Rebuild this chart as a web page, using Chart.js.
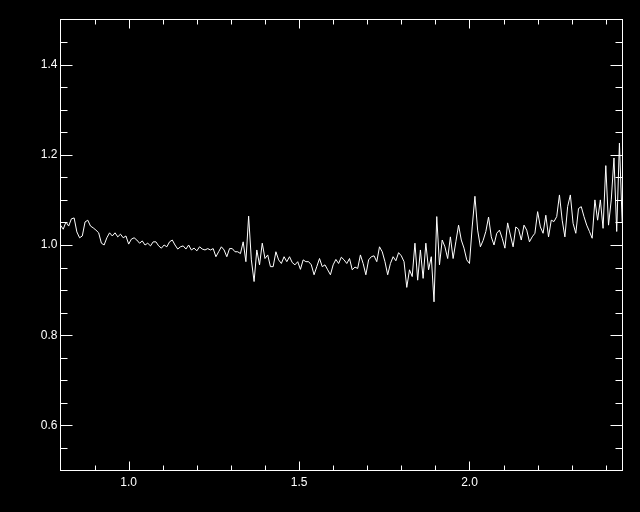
<!DOCTYPE html>
<html>
<head>
<meta charset="utf-8">
<script src="https://cdn.jsdelivr.net/npm/chart.js@4.4.0/dist/chart.umd.min.js"></script>
<style>
  html, body { margin: 0; padding: 0; background: #000; }
  #wrap { width: 640px; height: 512px; }
</style>
</head>
<body>
<div id="wrap"><canvas id="spectrum" width="640" height="512"></canvas></div>
<script>
// wavelength grid (micron): first sample and spacing
const WAVE_START = 0.8;
const WAVE_STEP = 0.008;

// normalised flux
const flux = [
  1.044, 1.035, 1.051, 1.042, 1.058, 1.060, 1.029, 1.016, 1.020, 1.051,
  1.055, 1.042, 1.038, 1.033, 1.027, 1.004, 1.000, 1.016, 1.027, 1.020,
  1.027, 1.018, 1.024, 1.016, 1.020, 1.002, 1.013, 1.016, 1.011, 1.004,
  1.009, 1.000, 1.004, 0.998, 1.007, 1.007, 0.998, 0.993, 1.000, 0.996,
  1.007, 1.011, 1.000, 0.991, 0.996, 0.998, 0.991, 1.000, 0.989, 0.993,
  0.987, 0.996, 0.991, 0.989, 0.992, 0.989, 0.992, 0.974, 0.985, 0.996,
  0.989, 0.974, 0.992, 0.992, 0.985, 0.985, 0.981, 1.007, 0.963, 1.064,
  0.967, 0.919, 0.989, 0.956, 1.004, 0.970, 0.978, 0.952, 0.952, 0.985,
  0.967, 0.959, 0.974, 0.963, 0.974, 0.961, 0.956, 0.963, 0.946, 0.967,
  0.963, 0.963, 0.956, 0.934, 0.952, 0.970, 0.952, 0.956, 0.945, 0.934,
  0.956, 0.968, 0.959, 0.973, 0.967, 0.959, 0.970, 0.945, 0.951, 0.948,
  0.978, 0.959, 0.934, 0.967, 0.974, 0.976, 0.963, 0.996, 0.985, 0.963,
  0.934, 0.959, 0.974, 0.965, 0.983, 0.976, 0.963, 0.906, 0.945, 0.930,
  1.004, 0.922, 0.989, 0.926, 1.004, 0.945, 0.974, 0.874, 1.063, 0.956,
  1.011, 0.996, 0.970, 1.018, 0.970, 1.007, 1.044, 1.011, 0.993, 0.967,
  0.959, 1.040, 1.108, 1.033, 0.996, 1.010, 1.030, 1.062, 1.018, 1.000,
  1.026, 1.033, 1.015, 0.993, 1.049, 1.022, 0.996, 1.040, 1.035, 1.011,
  1.044, 1.033, 1.007, 1.018, 1.026, 1.074, 1.040, 1.026, 1.066, 1.018,
  1.055, 1.052, 1.063, 1.111, 1.055, 1.018, 1.085, 1.111, 1.048, 1.026,
  1.081, 1.085, 1.063, 1.044, 1.030, 1.015, 1.100, 1.055, 1.100, 1.037,
  1.176, 1.044, 1.100, 1.193, 1.030, 1.226, 1.050
];

const X_MIN = 0.8, X_MAX = 2.449;
const Y_MIN = 0.5, Y_MAX = 1.5;
const xMajorTicks = [1.0, 1.5, 2.0];
const xMinorTicks = [0.9, 1.1, 1.2, 1.3, 1.4, 1.6, 1.7, 1.8, 1.9, 2.1, 2.2, 2.3, 2.4];
const yMajorTicks = [0.6, 0.8, 1.0, 1.2, 1.4];
const yMinorTicks = [0.55, 0.65, 0.7, 0.75, 0.85, 0.9, 0.95, 1.05, 1.1, 1.15, 1.25, 1.3, 1.35, 1.45];

const points = flux.map((f, i) => ({ x: WAVE_START + i * WAVE_STEP, y: f }));

// IDL style frame: box plus inward ticks on all four sides
const frameTicks = {
  id: "frameTicks",
  afterDatasetsDraw(chart) {
    const { ctx, chartArea: a, scales } = chart;
    ctx.save();
    ctx.strokeStyle = "#fff";
    ctx.lineWidth = 1;
    ctx.strokeRect(a.left, a.top, a.right - a.left, a.bottom - a.top);
    ctx.beginPath();
    const xt = (v, len) => {
      const px = Math.round(scales.x.getPixelForValue(v)) + 0.5;
      ctx.moveTo(px, a.bottom); ctx.lineTo(px, a.bottom - len);
      ctx.moveTo(px, a.top); ctx.lineTo(px, a.top + len);
    };
    const yt = (v, len) => {
      const py = Math.round(scales.y.getPixelForValue(v)) + 0.5;
      ctx.moveTo(a.left, py); ctx.lineTo(a.left + len, py);
      ctx.moveTo(a.right, py); ctx.lineTo(a.right - len, py);
    };
    xMajorTicks.forEach(v => xt(v, 9));
    xMinorTicks.forEach(v => xt(v, 5));
    yMajorTicks.forEach(v => yt(v, 12));
    yMinorTicks.forEach(v => yt(v, 7));
    ctx.stroke();
    ctx.restore();
  }
};

const blackBg = {
  id: "blackBg",
  beforeDraw(chart) {
    const { ctx, width, height } = chart;
    ctx.save();
    ctx.fillStyle = "#000";
    ctx.fillRect(0, 0, width, height);
    ctx.restore();
  }
};

const tickFont = { family: "'Liberation Sans', Arial, sans-serif", size: 12 };

new Chart(document.getElementById("spectrum").getContext("2d"), {
  type: "line",
  data: {
    datasets: [{
      data: points,
      borderColor: "#fff",
      borderWidth: 1,
      pointRadius: 0,
      tension: 0,
      fill: false
    }]
  },
  options: {
    responsive: false,
    animation: false,
    events: [],
    layout: { padding: { top: 19.5, right: 17.5, left: 0, bottom: 0 } },
    plugins: { legend: { display: false }, tooltip: { enabled: false } },
    scales: {
      x: {
        type: "linear",
        min: X_MIN,
        max: X_MAX,
        grid: { display: false, drawTicks: false },
        border: { display: false },
        afterBuildTicks: s => { s.ticks = xMajorTicks.map(v => ({ value: v })); },
        afterFit: s => { s.height = 41.5; },
        ticks: { color: "#fff", font: tickFont, padding: 5, maxRotation: 0, callback: v => v.toFixed(1) }
      },
      y: {
        min: Y_MIN,
        max: Y_MAX,
        grid: { display: false, drawTicks: false },
        border: { display: false },
        afterBuildTicks: s => { s.ticks = yMajorTicks.map(v => ({ value: v })); },
        afterFit: s => { s.width = 60.5; },
        ticks: { color: "#fff", font: tickFont, padding: 3, callback: v => v.toFixed(1) }
      }
    }
  },
  plugins: [blackBg, frameTicks]
});
</script>
</body>
</html>
